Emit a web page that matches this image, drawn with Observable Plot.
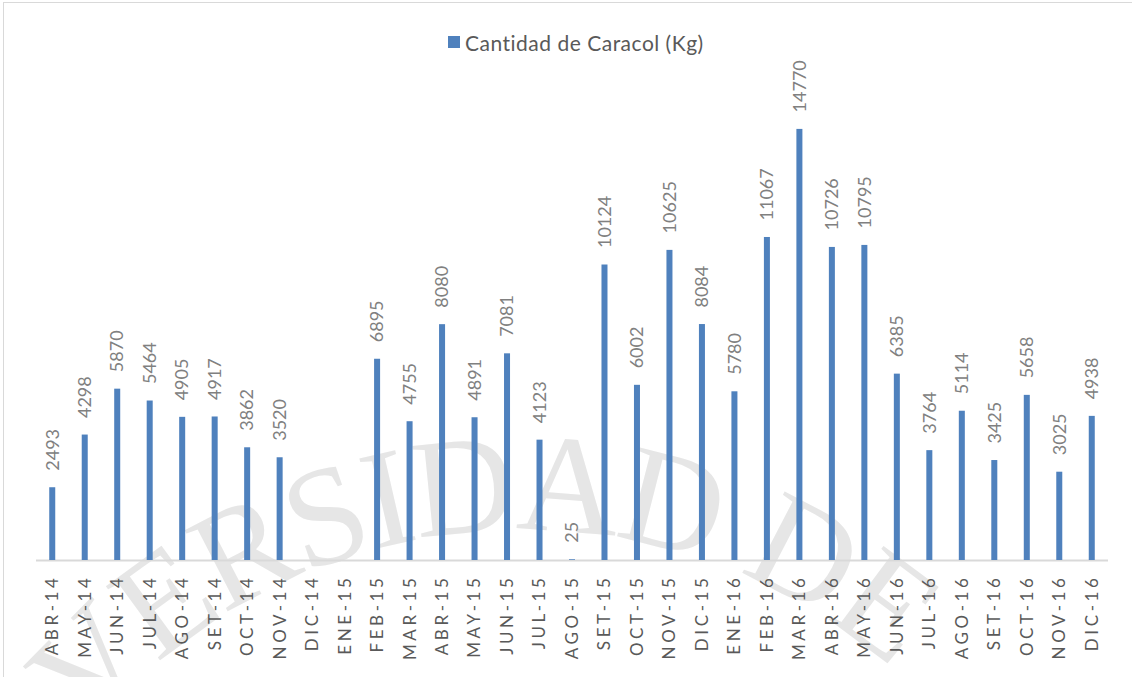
<!DOCTYPE html>
<html><head><meta charset="utf-8">
<script src="https://cdn.jsdelivr.net/npm/d3@7"></script>
<script src="https://cdn.jsdelivr.net/npm/@observablehq/plot@0.6"></script>
<style>
html,body{margin:0;padding:0;background:#fff;}
#wrap{position:relative;width:1132px;height:677px;overflow:hidden;font-family:Lato,sans-serif;background:#fff;}
#frame{position:absolute;left:3px;top:2px;width:1140px;height:700px;border-left:1.5px solid #d9d9d9;border-top:1.5px solid #d9d9d9;}
#wm{position:absolute;left:0;top:0;}
#legend{position:absolute;left:448px;top:30px;height:24px;display:flex;align-items:center;gap:5px;color:#595959;font-size:21px;letter-spacing:0.5px;white-space:nowrap;}
#legend .sw{width:12px;height:12px;background:#4f81bd;display:inline-block;}
#chart{position:absolute;left:0;top:60px;}
#chart svg [aria-label="x-axis tick label"] text{letter-spacing:3.6px;}
</style></head><body>
<div id="wrap">
  <div id="frame"></div>
  <svg id="wm" width="1132" height="677">
    <defs><path id="arc" d="M -41 1093 A 563 563 0 0 1 1085 1093"/></defs>
    <text font-family="Liberation Serif, DejaVu Serif, serif" font-size="140" letter-spacing="-3" fill="#e6e6e6"><textPath href="#arc" startOffset="150">UNIVERSIDAD DE</textPath></text>
  </svg>
  <div id="legend"><span class="sw"></span><span id="legend-label"></span></div>
  <div id="chart"></div>
</div>
<script>
const seriesName = "Cantidad de Caracol (Kg)";
const months = ["ABR-14","MAY-14","JUN-14","JUL-14","AGO-14","SET-14","OCT-14","NOV-14","DIC-14","ENE-15","FEB-15","MAR-15","ABR-15","MAY-15","JUN-15","JUL-15","AGO-15","SET-15","OCT-15","NOV-15","DIC-15","ENE-16","FEB-16","MAR-16","ABR-16","MAY-16","JUN-16","JUL-16","AGO-16","SET-16","OCT-16","NOV-16","DIC-16"];
const values = [2493,4298,5870,5464,4905,4917,3862,3520,null,null,6895,4755,8080,4891,7081,4123,25,10124,6002,10625,8084,5780,11067,14770,10726,10795,6385,3764,5114,3425,5658,3025,4938];

document.getElementById("legend-label").textContent = seriesName;

const data = months.map((m, i) => ({month: m, value: values[i]})).filter(d => d.value != null);

const chart = Plot.plot({
  width: 1132,
  height: 617,
  marginLeft: 36,
  marginRight: 24,
  marginTop: 33,
  marginBottom: 117,
  style: {background: "transparent", fontFamily: "Lato, sans-serif", color: "#595959", fontSize: "16px", overflow: "visible"},
  x: {domain: months, paddingInner: 0.815, paddingOuter: 0.4075, round: false, label: null},
  y: {domain: [0, 16000], axis: null},
  marks: [
    Plot.ruleY([0], {stroke: "#d9d9d9", strokeWidth: 2}),
    Plot.barY(data, {x: "month", y: "value", fill: "#4f81bd"}),
    Plot.text(data, {x: "month", y: "value", text: d => String(d.value), rotate: -90, textAnchor: "start", dy: -17, fill: "#808080", fontSize: 18}),
    Plot.axisX({tickRotate: -90, tickSize: 0, tickPadding: 14, fontSize: 17, fill: "#595959", label: null})
  ]
});
document.getElementById("chart").appendChild(chart);
</script>
</body></html>
